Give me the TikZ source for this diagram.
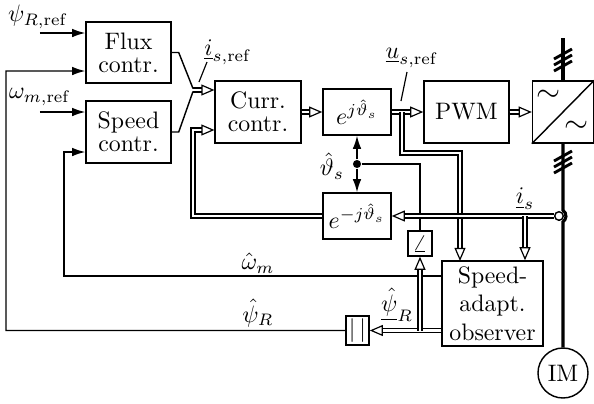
\documentclass[tikz,border=0pt]{standalone}
\usepackage{amsmath}
\usetikzlibrary{arrows.meta,positioning,calc}
\tikzset{
  blk/.style={draw, line width=0.6pt, align=center, inner sep=1pt},
  blktwo/.style={blk, font=\fontsize{10}{9.6}\selectfont},
  sig/.style={line width=0.6pt, -{Latex[length=5.5pt,width=3.6pt]}},
  vecline/.style={double, line width=0.5pt, double distance=1.2pt},
  vec/.style={vecline, -{Triangle[open,length=5.5pt,width=4.6pt]}},
  pow/.style={line width=1.3pt}
}
\begin{document}
\begin{tikzpicture}[x=0.42pt,y=-0.42pt]
\useasboundingbox (0,0) rectangle (594,403);

% blocks
\node[blktwo, minimum width=35.7pt, minimum height=25.6pt] (flux) at (128.5,52.5) {Flux\\contr.};
\node[blktwo, minimum width=35.7pt, minimum height=26pt] (speed) at (128.5,132) {Speed\\contr.};
\node[blktwo, minimum width=36pt, minimum height=26pt] (curr) at (258,112) {Curr.\\contr.};
\node[blk, minimum width=28.6pt, minimum height=19.3pt] (rot) at (357,112) {$e^{j\hat\vartheta_s}$};
\node[blk, minimum width=28.6pt, minimum height=19.3pt] (irot) at (357,216) {$e^{-j\hat\vartheta_s}$};
\node[blk, minimum width=35.7pt, minimum height=26pt] (pwm) at (466.5,112) {PWM};
\node[blk, minimum width=25.6pt, minimum height=26pt] (inv) at (563,112) {};
\node[blk, minimum width=42.4pt, minimum height=35.7pt] (obs) at (492.5,303.5) {Speed-\\adapt.\\observer};
\node[blk, minimum width=10pt, minimum height=10.5pt, inner sep=0pt] (ang) at (420,243.5) {$\angle$};
\node[blk, minimum width=9.7pt, minimum height=12.2pt, inner sep=0pt] (abs) at (357.5,330.5) {$|\,|$};
\node[circle, draw, line width=0.6pt, minimum size=21pt, inner sep=0pt] (im) at (563,373) {IM};

% inverter symbol
\draw[line width=0.6pt] (inv.south west) -- (inv.north east);
\node[scale=1.3] (acin) at (549,96) {$\sim$};
\node[scale=1.3] (acout) at (577,127) {$\sim$};

% power line
\coordinate (mains) at (563,38);
\coordinate (hatchA) at (563,60);
\coordinate (hatchB) at (563,162);
\node[circle, draw, line width=0.6pt, fill=white, minimum size=3.6pt, inner sep=0pt] (sens) at (559,216) {};
\draw[pow] (mains) -- (inv.north);
\draw[pow] (inv.south) -- (563,210.26) arc[start angle=-55, end angle=55, radius=7] -- (im.north);
\foreach \d in {-6,0,6} {
  \draw[line width=1.2pt] ($(hatchA)+(-9,5+\d)$) -- ($(hatchA)+(9,-5+\d)$);
  \draw[line width=1.2pt] ($(hatchB)+(-9,5+\d)$) -- ($(hatchB)+(9,-5+\d)$);
}

% references
\node (psiref) at (38,17) {$\psi_{R,\mathrm{ref}}$};
\coordinate (psiin) at (40,33);
\draw[sig] (psiin) -- (psiin -| flux.west);
\node (omref) at (40,97) {$\omega_{m,\mathrm{ref}}$};
\coordinate (omin) at (40,112);
\draw[sig] (omin) -- (omin -| speed.west);

% current reference
\coordinate (merge) at (193,90);
\draw[line width=0.6pt] (flux.east) -- ++(7,0) -- ($(merge)+(0,-1.5)$);
\draw[line width=0.6pt] (speed.east) -- ++(7,0) -- ($(merge)+(0,1.5)$);
\draw[vec] (merge) -- (merge -| curr.west);
\node (isref) at (228,52) {$\underline{i}_{s,\mathrm{ref}}$};
\draw[line width=0.5pt] (199,82) -- (207,62);

% forward path
\draw[vec] (curr.east) -- (rot.west);
\draw[vec] (rot.east) -- (pwm.west);
\draw[vec] (pwm.east) -- (inv.west);
\node (usref) at (412,58) {$\underline{u}_{s,\mathrm{ref}}$};
\draw[line width=0.5pt] (401,101) -- (407,72);
\coordinate (usbr) at (402,112);
\draw[vec] (usbr) -- (402,153) -- (460,153) -- (460,261);

% angle
\node[circle, fill, inner sep=1.2pt] (thdot) at (357,164) {};
\draw[sig] (thdot) -- (rot.south);
\draw[sig] (thdot) -- (irot.north);
\draw[line width=0.6pt] (thdot) -| (ang.north);
\node (thlabel) at (332,166) {$\hat\vartheta_s$};

% measured current
\draw[vec] (sens.west) -- (irot.east);
\coordinate (isbr) at (525,216);
\draw[vec] (isbr) -- (isbr |- obs.north);
\node (islabel) at (525,199) {$\underline{i}_s$};
\draw[vec] (irot.west) -- (193,216) -- (193,130) -- ($(curr.west)+(0,18)$);

% observer outputs
\coordinate (wout) at ($(obs.west)+(0,-27.5)$);
\draw[sig] (wout) -| (64,152) -- ($(speed.west)+(0,20)$);
\node (omhat) at (258,263) {$\hat\omega_m$};
\coordinate (pout) at ($(obs.west)+(0,27)$);
\draw[vec] (pout) -- (abs.east);
\coordinate (psibr) at (420,330.5);
\draw[vec] (psibr) -- (ang.south);
\node (psivec) at (397,305) {$\underline{\hat\psi}_R$};
\draw[sig] (abs.west) -| (6,71) -- ($(flux.west)+(0,18.5)$);
\node (psihat) at (258,313) {$\hat\psi_R$};
\end{tikzpicture}
\end{document}
